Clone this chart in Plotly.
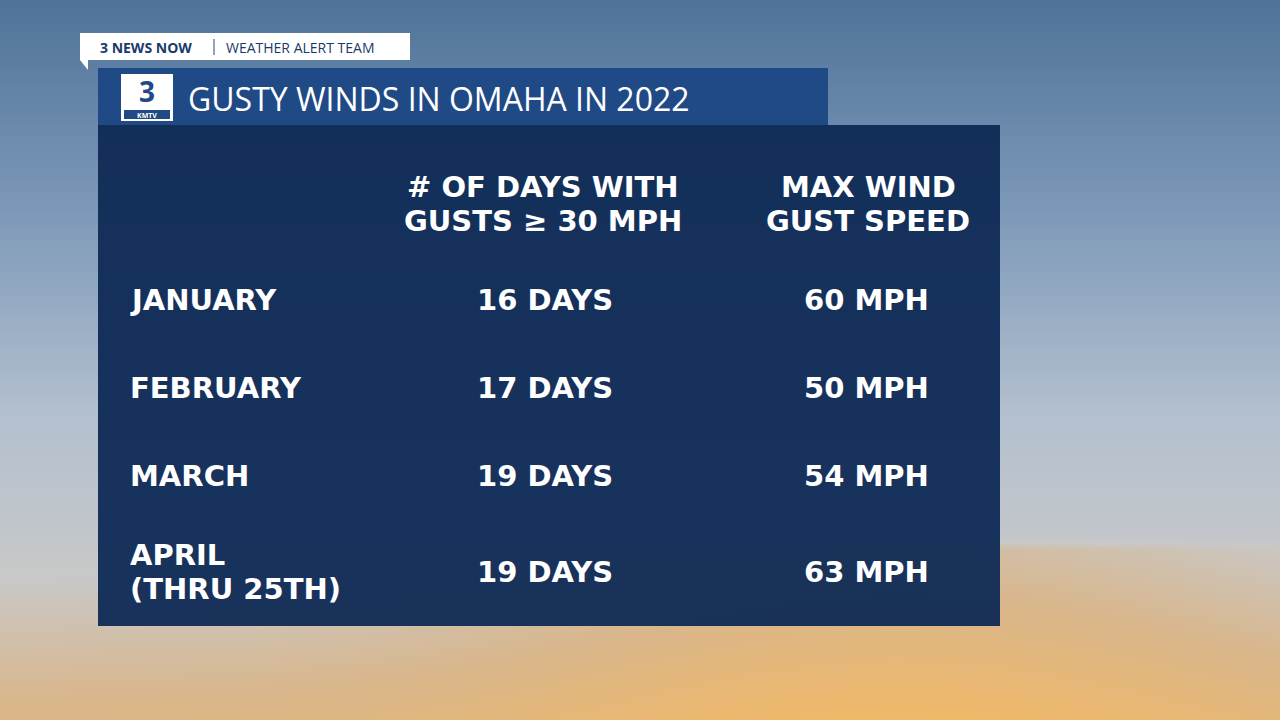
import plotly.graph_objects as go
import numpy as np

title = "GUSTY WINDS IN OMAHA IN 2022"
col_headers = [["# OF DAYS WITH", "GUSTS ≥ 30 MPH"], ["MAX WIND", "GUST SPEED"]]
months = [["JANUARY"], ["FEBRUARY"], ["MARCH"], ["APRIL", "(THRU 25TH)"]]
days = [16, 17, 19, 19]
max_gust = [60, 50, 54, 63]
row_y = [300, 388, 476, 572]

W, H = 1280, 720
fig = go.Figure()

ys = np.linspace(0, H, 60)
xs = np.linspace(0, W, 40)
X, Y = np.meshgrid(xs, ys)
Z = Y / H + 0.15 * np.exp(-((X - 900) / 400) ** 2) * (Y / H > 0.75)
fig.add_trace(go.Heatmap(x=xs, y=ys, z=Z, showscale=False, hoverinfo="skip", zsmooth="best",
    colorscale=[[0, "#4f7399"], [0.25, "#7c98b8"], [0.5, "#b3c0cf"], [0.7, "#c8c8c8"],
                [0.85, "#d9b68a"], [1.0, "#f0b868"]]))

shapes = [
    dict(type="rect", x0=80, x1=410, y0=33, y1=60, fillcolor="white", line_width=0),
    dict(type="path", path="M80,60 L88,60 L88,70 Z", fillcolor="white", line_width=0),
    dict(type="rect", x0=98, x1=828, y0=68, y1=125, fillcolor="#1f4a86", line_width=0),
    dict(type="rect", x0=98, x1=1000, y0=125, y1=626, fillcolor="#0e2a55", opacity=0.95, line_width=0),
    dict(type="line", x0=214, x1=214, y0=39, y1=55, line=dict(color="#1f4a86", width=1)),
    dict(type="rect", x0=121, x1=173, y0=74, y1=121, fillcolor="white", line_width=0),
    dict(type="rect", x0=124, x1=170, y0=110, y1=119, fillcolor="#1f4a86", line_width=0),
]
F = "Open Sans"
B = "DejaVu Sans"
ann = [
    dict(x=98, y=47, text="<b>3 NEWS NOW</b>", xanchor="left", font=dict(size=14, color="#1a3a6a", family=F)),
    dict(x=224, y=47, text="WEATHER ALERT TEAM", xanchor="left", font=dict(size=14, color="#1a3a6a", family=F)),
    dict(x=186, y=98, text=title, xanchor="left", font=dict(size=32, color="white", family=F)),
    dict(x=147, y=91, text="<b>3</b>", font=dict(size=28, color="#1f4a86", family=F)),
    dict(x=147, y=115, text="<b>KMTV</b>", font=dict(size=7, color="white", family=F)),
]
def lines(parts, y0, x, anchor="center"):
    n = len(parts)
    for k, p in enumerate(parts):
        ann.append(dict(x=x, y=y0 + (k - (n - 1) / 2) * 34, text=f"<b>{p}</b>", xanchor=anchor,
                        font=dict(size=29, color="white", family=B)))
for i, h in enumerate(col_headers):
    lines(h, 204, [543, 868][i])
for m, d, g, y in zip(months, days, max_gust, row_y):
    lines(m, y, 128, "left")
    lines([f"{d} DAYS"], y, 545)
    lines([f"{g} MPH"], y, 866)
for a in ann:
    a.update(showarrow=False, yanchor="middle", xref="x", yref="y")

fig.update_layout(width=W, height=H, margin=dict(l=0, r=0, t=0, b=0), shapes=shapes, annotations=ann,
    xaxis=dict(range=[0, W], visible=False, fixedrange=True),
    yaxis=dict(range=[H, 0], visible=False, fixedrange=True),
    plot_bgcolor="#7c98b8", paper_bgcolor="#7c98b8", showlegend=False)
fig.write_html("out.html", config={"displayModeBar": False},
               post_script="document.body.style.margin='0';document.body.style.overflow='hidden';")
